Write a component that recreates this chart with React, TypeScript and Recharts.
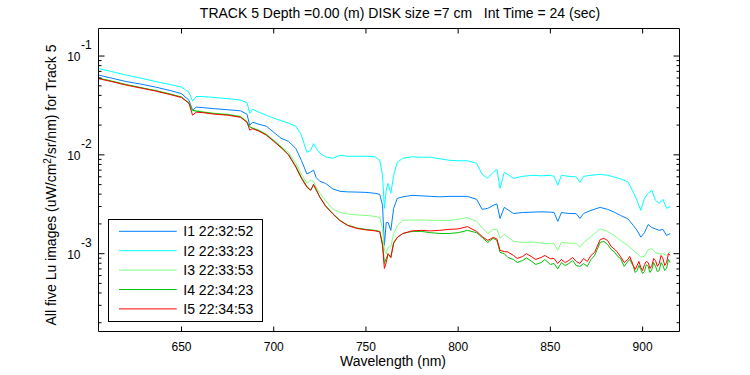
import { LineChart, Line, XAxis, YAxis, Legend } from 'recharts'

const FONT = '"Liberation Sans", Arial, Helvetica, sans-serif'

const TITLE = 'TRACK 5 Depth =0.00 (m) DISK size =7 cm   Int Time = 24 (sec)'

const WAVELENGTH = [
  605, 612, 620, 628, 636, 644, 650, 654, 656, 658,
  662, 668, 675, 682, 685.5, 687, 688.5, 692, 696, 700,
  704, 708, 712, 715, 718, 720, 721.6, 723, 725, 728,
  732, 736, 740, 745, 750, 755, 757.5, 759, 760, 761,
  762, 763.5, 765, 767, 770, 775, 780, 785, 790, 795,
  800, 805, 810, 813, 816, 819, 821, 822.7, 825, 830,
  835, 840, 845, 850, 852, 854, 856, 860, 864, 866,
  868, 872, 877, 881, 885, 888, 892, 895, 897, 899,
  901, 903, 905, 907, 909, 911, 913, 915,
]

const I1 = [
  0.0642, 0.0598, 0.0552, 0.052, 0.0485, 0.0447, 0.0416, 0.0358, 0.0283, 0.0304,
  0.03, 0.0293, 0.0286, 0.0279, 0.0258, 0.0199, 0.0214, 0.0204, 0.0195, 0.0169,
  0.0147, 0.0137, 0.0116, 0.0088, 0.0064, 0.0067, 0.007, 0.0059, 0.0054, 0.00515,
  0.00453, 0.00427, 0.00422, 0.0042, 0.00417, 0.00408, 0.00398, 0.00308, 0.00121, 0.00207,
  0.00207, 0.00172, 0.00287, 0.00363, 0.00376, 0.00389, 0.00385, 0.0038, 0.00376, 0.0038,
  0.0038, 0.0038, 0.00355, 0.00281, 0.00287, 0.00308, 0.00319, 0.00227, 0.00294, 0.00255,
  0.00261, 0.00263, 0.00265, 0.00263, 0.00261, 0.00212, 0.00261, 0.00255, 0.00254, 0.00227,
  0.00255, 0.00274, 0.00294, 0.00281, 0.00261, 0.00244, 0.00225, 0.00193, 0.00172, 0.00147,
  0.00163, 0.00197, 0.00184, 0.00178, 0.00172, 0.00176, 0.00153, 0.0016,
]

const I2 = [
  0.0747, 0.0697, 0.0642, 0.0598, 0.0552, 0.0514, 0.0485, 0.0431, 0.035, 0.0389,
  0.0389, 0.038, 0.0371, 0.0358, 0.0338, 0.0264, 0.029, 0.027, 0.0252, 0.0235,
  0.0222, 0.0209, 0.0195, 0.0158, 0.0106, 0.0111, 0.013, 0.0117, 0.0104, 0.00956,
  0.00923, 0.00991, 0.00968, 0.00968, 0.00968, 0.00956, 0.00882, 0.00621, 0.00287, 0.00438,
  0.00515, 0.00408, 0.00621, 0.00841, 0.00923, 0.00956, 0.00945, 0.00945, 0.00913, 0.00882,
  0.00871, 0.00871, 0.00822, 0.00636, 0.00579, 0.00666, 0.00714, 0.00459, 0.00666, 0.00579,
  0.00606, 0.00621, 0.00613, 0.00621, 0.00606, 0.00492, 0.00621, 0.00606, 0.00599, 0.00527,
  0.00606, 0.00621, 0.00636, 0.00621, 0.00593, 0.00572, 0.00533, 0.00417, 0.00346, 0.00274,
  0.00363, 0.00408, 0.00438, 0.00346, 0.00323, 0.00355, 0.00287, 0.00301,
]

const I3 = [
  0.0598, 0.0558, 0.0514, 0.0479, 0.0447, 0.0412, 0.0384, 0.0338, 0.0277, 0.028,
  0.0273, 0.0264, 0.0258, 0.0246, 0.0219, 0.019, 0.0188, 0.0178, 0.0162, 0.0141,
  0.0122, 0.0106, 0.0082, 0.0064, 0.00515, 0.00553, 0.0054, 0.0047, 0.00408, 0.00346,
  0.00284, 0.00261, 0.00252, 0.00246, 0.00244, 0.00238, 0.00232, 0.0018, 0.00108, 0.001,
  0.00116, 0.00118, 0.0016, 0.00193, 0.00217, 0.00219, 0.00219, 0.00217, 0.00217, 0.00217,
  0.00222, 0.00232, 0.00212, 0.00184, 0.0016, 0.00176, 0.00176, 0.00143, 0.00157, 0.00133,
  0.0013, 0.00131, 0.00128, 0.00126, 0.00126, 0.00108, 0.0013, 0.00128, 0.00127, 0.00116,
  0.0013, 0.00149, 0.00178, 0.00168, 0.00151, 0.00136, 0.00121, 0.00108, 0.001, 0.000926,
  0.000937, 0.0011, 0.00112, 0.00103, 0.000993, 0.001, 0.000959, 0.00105,
]

const I4 = [
  0.0598, 0.0558, 0.0514, 0.0479, 0.0447, 0.0412, 0.0384, 0.0334, 0.0283, 0.0277,
  0.027, 0.0261, 0.0255, 0.0243, 0.0214, 0.0193, 0.0186, 0.0176, 0.016, 0.0139,
  0.012, 0.0101, 0.00766, 0.00593, 0.0048, 0.00438, 0.00492, 0.00438, 0.00376, 0.00308,
  0.00255, 0.00217, 0.00195, 0.00182, 0.00176, 0.00172, 0.00168, 0.00127, 0.000795, 0.000894,
  0.000993, 0.000915, 0.0013, 0.00146, 0.0016, 0.00168, 0.00168, 0.00163, 0.0016, 0.0016,
  0.00163, 0.00172, 0.00163, 0.00146, 0.0013, 0.00143, 0.00136, 0.00103, 0.001, 0.000873,
  0.000853, 0.000834, 0.000814, 0.000777, 0.000795, 0.0007, 0.000814, 0.000795, 0.000759, 0.000742,
  0.000795, 0.000873, 0.0013, 0.00124, 0.00103, 0.000894, 0.000834, 0.000742, 0.000675, 0.000691,
  0.00066, 0.000742, 0.000691, 0.000742, 0.000675, 0.000759, 0.000708, 0.000814,
]

const I5 = [
  0.0591, 0.0552, 0.0508, 0.0474, 0.0442, 0.0407, 0.038, 0.0334, 0.0252, 0.027,
  0.0267, 0.0258, 0.0252, 0.024, 0.0214, 0.0178, 0.0184, 0.0174, 0.0158, 0.0137,
  0.0118, 0.01, 0.0075, 0.0058, 0.0047, 0.00438, 0.00503, 0.00448, 0.00372, 0.00304,
  0.00252, 0.00215, 0.00193, 0.0018, 0.00174, 0.0017, 0.00166, 0.00121, 0.000708, 0.000814,
  0.001, 0.000915, 0.00127, 0.00146, 0.0016, 0.0017, 0.00172, 0.0017, 0.00172, 0.00176,
  0.00178, 0.00188, 0.00168, 0.00149, 0.00136, 0.00146, 0.00141, 0.00108, 0.00105, 0.000959,
  0.000937, 0.000926, 0.000915, 0.000888, 0.000894, 0.000795, 0.000873, 0.000853, 0.000834, 0.000795,
  0.000894, 0.000959, 0.00139, 0.00136, 0.0011, 0.000937, 0.000873, 0.000759, 0.000759, 0.000725,
  0.000777, 0.000814, 0.000759, 0.000853, 0.000795, 0.000894, 0.000814, 0.000959,
]

// extra readings where the I4 / I5 traces are noisy
const EXTRA_WL = [
  827, 832, 837, 842, 847, 858, 862, 870, 874, 879,
  883, 886, 890, 893, 896, 898, 900, 902, 904, 906,
  908, 910, 912, 914,
]
const I4_EXTRA = [
  0.000915, 0.000814, 0.000905, 0.000777, 0.000873, 0.000759, 0.000853, 0.000742, 0.000959, 0.00133,
  0.0011, 0.000959, 0.000742, 0.000873, 0.000645, 0.000759, 0.00063, 0.000777, 0.000645, 0.000814,
  0.00066, 0.000814, 0.000675, 0.000873,
]
const I5_EXTRA = [
  0.00104, 0.000894, 0.001, 0.000873, 0.000959, 0.000814, 0.000915, 0.000834, 0.00103, 0.00143,
  0.00118, 0.00105, 0.000814, 0.000937, 0.000691, 0.000834, 0.000675, 0.000834, 0.000708, 0.000894,
  0.000742, 0.000959, 0.000759, 0.001,
]

const NAMES = ['I1 22:32:52', 'I2 22:33:23', 'I3 22:33:53', 'I4 22:34:23', 'I5 22:34:53']
const COLORS = ['#0080ff', '#00ffff', '#80ff80', '#00c000', '#ff0000']
const VALUES = [I1, I2, I3, I4, I5]
const EXTRAS: (number[] | null)[] = [null, null, null, I4_EXTRA, I5_EXTRA]

const X_TICKS = [650, 700, 750, 800, 850, 900]
const Y_TICKS = [
  0.0002, 0.0003, 0.0004, 0.0005, 0.0006, 0.0007, 0.0008, 0.0009,
  0.001, 0.002, 0.003, 0.004, 0.005, 0.006, 0.007, 0.008, 0.009,
  0.01, 0.02, 0.03, 0.04, 0.05, 0.06, 0.07, 0.08, 0.09, 0.1,
]
const MAJOR = [0.001, 0.01, 0.1]
const EXPONENT = ['-3', '-2', '-1']

// recharts puts the tick label this far from the axis line
const TICK_SIZE = 6
const TICK_MARGIN = 2
const GAP = TICK_SIZE + TICK_MARGIN

const seriesData = VALUES.map((vals, k) => {
  const pts = WAVELENGTH.map((wl, i) => ({ wl, v: vals[i] }))
  const extra = EXTRAS[k]
  if (extra) EXTRA_WL.forEach((wl, i) => pts.push({ wl, v: extra[i] }))
  return pts.sort((a, b) => a.wl - b.wl)
})

function LeftTick({ x, y, payload }: any) {
  const ax = x + GAP
  const k = MAJOR.indexOf(payload.value)
  return (
    <g>
      <line x1={ax} y1={y} x2={ax + (k >= 0 ? 6 : 3)} y2={y} stroke="#000" />
      {k >= 0 && (
        <>
          <text x={ax - 18} y={y + 5} textAnchor="end" fontSize={12} fontFamily={FONT} fill="#000">10</text>
          <text x={ax - 17.5} y={y - 7} fontSize={12} fontFamily={FONT} fill="#000">{EXPONENT[k]}</text>
        </>
      )}
    </g>
  )
}

function RightTick({ x, y, payload }: any) {
  const ax = x - GAP
  const major = MAJOR.includes(payload.value)
  return <line x1={ax} y1={y} x2={ax - (major ? 6 : 3)} y2={y} stroke="#000" />
}

function BottomTick({ x, y, payload }: any) {
  const ay = y - GAP
  return (
    <g>
      <line x1={x} y1={ay} x2={x} y2={ay - 5} stroke="#000" />
      <text x={x} y={ay + 19} textAnchor="middle" fontSize={12} fontFamily={FONT} fill="#000">{payload.value}</text>
    </g>
  )
}

function TopTick({ x, y }: any) {
  const ay = y + GAP
  return <line x1={x} y1={ay} x2={x} y2={ay + 5} stroke="#000" />
}

function XTitle({ viewBox }: any) {
  return (
    <text x={viewBox.x + viewBox.width / 2 + 4} y={viewBox.y + 34.5} textAnchor="middle" fontSize={14} fontFamily={FONT} fill="#000">
      Wavelength (nm)
    </text>
  )
}

function YTitle({ viewBox }: any) {
  const cx = viewBox.x + viewBox.width - 42.5
  const cy = viewBox.y + viewBox.height / 2 + 5
  return (
    <text x={cx} y={cy} transform={`rotate(-90, ${cx}, ${cy})`} textAnchor="middle" fontSize={14} fontFamily={FONT} fill="#000">
      All five Lu images (uW/cm<tspan baselineShift="super" fontSize={10}>2</tspan>/sr/nm) for Track 5
    </text>
  )
}

function LegendBox({ payload }: any) {
  return (
    <svg width={156} height={104} style={{ display: 'block' }}>
      <rect x={0.5} y={0.5} width={154} height={102} fill="#fff" stroke="#000" />
      {(payload || []).map((p: any, i: number) => {
        const cy = 12.3 + i * 19.4
        return (
          <g key={p.value}>
            <line x1={11} x2={68.7} y1={cy} y2={cy} stroke={p.color} />
            <text x={75.3} y={cy + 5} fontSize={14} fontFamily={FONT} fill="#000">{p.value}</text>
          </g>
        )
      })}
    </svg>
  )
}

const axisCommon = {
  allowDataOverflow: true,
  interval: 0 as const,
  tickSize: TICK_SIZE,
  tickMargin: TICK_MARGIN,
  tickLine: false,
  axisLine: { stroke: '#000' },
}

export default function App() {
  return (
    <div style={{ position: 'absolute', left: 0, top: 0, width: 750, height: 375, background: '#fff', fontFamily: FONT }}>
      <div style={{ position: 'absolute', left: 0, top: 5, width: 800, textAlign: 'center', fontSize: 14, lineHeight: '16px', whiteSpace: 'pre', color: '#000' }}>
        {TITLE}
      </div>
      <LineChart width={750} height={375} margin={{ top: 27.5, right: 69.5, bottom: 42.5, left: 97.5 }}>
        <XAxis
          {...axisCommon}
          xAxisId="b"
          dataKey="wl"
          type="number"
          domain={[605, 920]}
          ticks={X_TICKS}
          height={1}
          tick={<BottomTick />}
          label={<XTitle />}
        />
        <XAxis
          {...axisCommon}
          xAxisId="t"
          orientation="top"
          dataKey="wl"
          type="number"
          domain={[605, 920]}
          ticks={X_TICKS}
          height={1}
          tick={<TopTick />}
        />
        <YAxis
          {...axisCommon}
          yAxisId="l"
          scale="log"
          domain={[1.63e-4, 0.19]}
          ticks={Y_TICKS}
          width={1}
          tick={<LeftTick />}
          label={<YTitle />}
        />
        <YAxis
          {...axisCommon}
          yAxisId="r"
          orientation="right"
          scale="log"
          domain={[1.63e-4, 0.19]}
          ticks={Y_TICKS}
          width={1}
          tick={<RightTick />}
        />
        <Legend
          layout="vertical"
          align="center"
          verticalAlign="middle"
          wrapperStyle={{ left: 108, top: 219, width: 156, height: 104 }}
          content={<LegendBox />}
        />
        {NAMES.map((name, k) => (
          <Line
            key={name}
            data={seriesData[k]}
            xAxisId="b"
            yAxisId="l"
            type="linear"
            dataKey="v"
            name={name}
            stroke={COLORS[k]}
            strokeWidth={1}
            dot={false}
            isAnimationActive={false}
          />
        ))}
      </LineChart>
    </div>
  )
}
